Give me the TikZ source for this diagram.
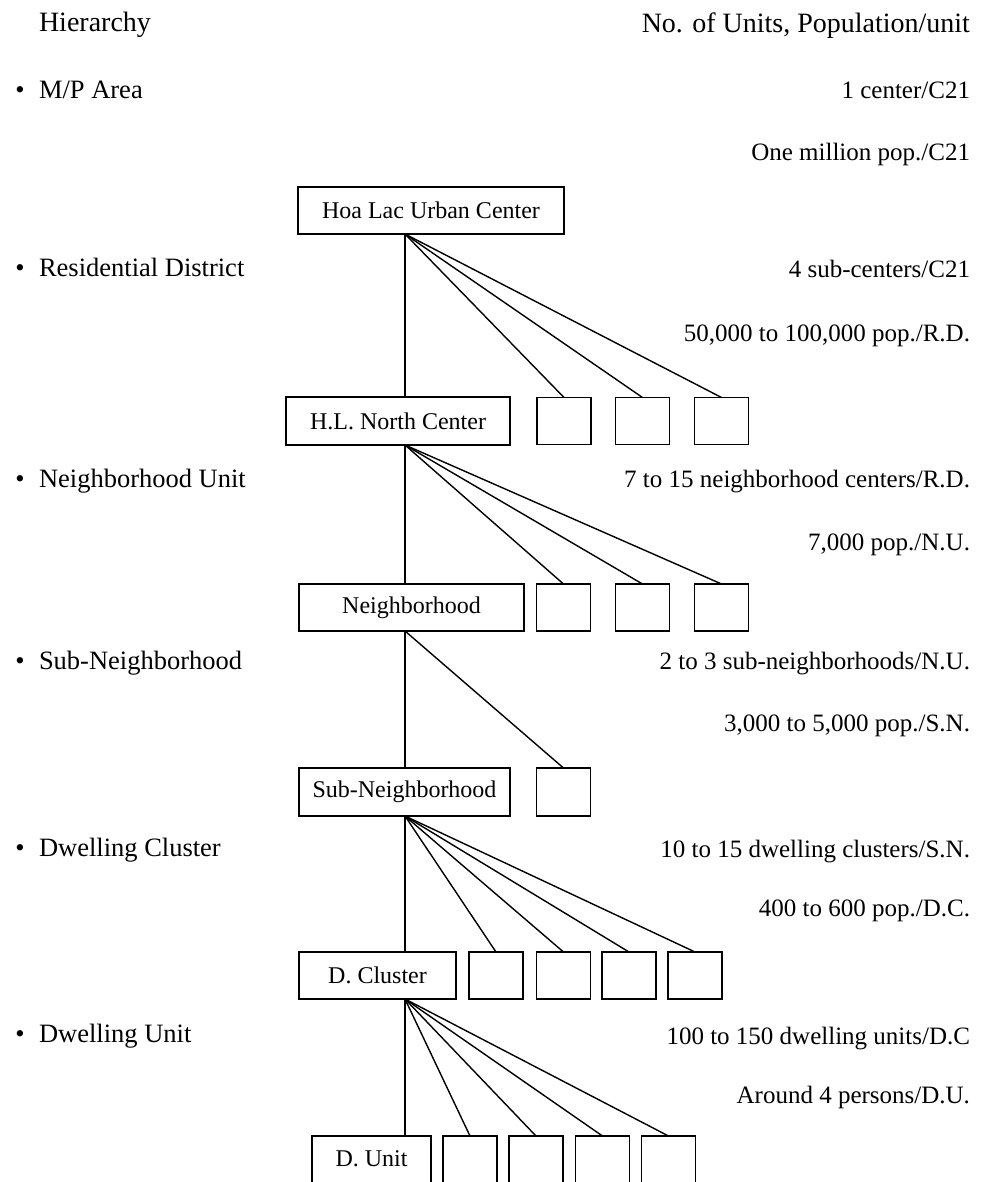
\documentclass[tikz,border=0pt]{standalone}
\usepackage{fontspec}
\setmainfont{Liberation Serif}
\begin{document}
\begin{tikzpicture}[x=1pt,y=-1pt,
  every node/.style={inner sep=0pt, outer sep=0pt},
  lbl/.style={font=\fontsize{25}{30}\selectfont},
  lvl/.style={font=\fontsize{26.5}{31}\selectfont},
  head/.style={font=\fontsize{28}{32}\selectfont},
  unitbox/.style={draw, line width=1.5pt, minimum height=47pt, font=\fontsize{24}{28}\selectfont},
  smallbox/.style={draw, line width=1.5pt, minimum height=47pt, minimum width=54pt},
  spineline/.style={line width=1.9pt},
  fanline/.style={line width=1.4pt}]
\useasboundingbox (0,0) rectangle (994,1182);
\clip (0,0) rectangle (994,1182);

% column headings
\node[head, anchor=base west] (hhier) at (39,32) {Hierarchy};
\node[head, anchor=base east] (hunits) at (970,33) {No. of Units, Population/unit};

% hierarchy levels (left)
\foreach \nm/\yy/\txt in {lmp/99/M\slash P Area, lrd/276/Residential District,
    lnu/487/Neighborhood Unit, lsn/669/Sub-Neighborhood,
    ldc/856/Dwelling Cluster, ldu/1042/Dwelling Unit}{
  \node[lvl, anchor=base] (\nm b) at (20,\yy) {•};
  \node[lvl, anchor=base west] (\nm) at (39,\yy) {\txt};
}

% units and population (right)
\foreach \nm/\yy/\txt in {r1a/99/1 center\slash C21, r1b/161/One million pop.\slash C21,
    r2a/277/4 sub-centers\slash C21, r2b/341/{50,000 to 100,000 pop.\slash R.D.},
    r3a/487/7 to 15 neighborhood centers\slash R.D., r3b/550/{7,000 pop.\slash N.U.},
    r4a/669/2 to 3 sub-neighborhoods\slash N.U., r4b/731/{3,000 to 5,000 pop.\slash S.N.},
    r5a/857/10 to 15 dwelling clusters\slash S.N., r5b/916/400 to 600 pop.\slash D.C.,
    r6a/1044/100 to 150 dwelling units\slash D.C, r6b/1103/Around 4 persons\slash D.U.}{
  \node[lbl, anchor=base east] (\nm) at (970,\yy) {\txt};
}

% spine of the tree
\coordinate (spine) at (405,0);

% level 1
\node[unitbox, minimum width=266pt] (hoalac) at (431,210.5) {Hoa Lac Urban Center};
% level 2
\node[unitbox, minimum width=224pt, minimum height=48pt] (hln) at (398,421) {H.L. North Center};
\node[smallbox] (rd1) at (564,421) {};
\node[smallbox] (rd2) at (642.5,421) {};
\node[smallbox] (rd3) at (721.5,421) {};
% level 3
\node[unitbox, minimum width=225pt] (nb) at (411.5,607.5) {Neighborhood};
\node[smallbox] (nu1) at (563.5,607.5) {};
\node[smallbox] (nu2) at (642.5,607.5) {};
\node[smallbox] (nu3) at (721.5,607.5) {};
% level 4
\node[unitbox, minimum width=211pt, minimum height=48pt] (sn) at (404.5,792) {Sub-Neighborhood};
\node[smallbox, minimum height=48pt] (sn1) at (563.5,792) {};
% level 5
\node[unitbox, minimum width=157pt] (dc) at (377.5,975.5) {D. Cluster};
\node[smallbox] (dc1) at (496,975.5) {};
\node[smallbox] (dc2) at (563.5,975.5) {};
\node[smallbox] (dc3) at (629,975.5) {};
\node[smallbox] (dc4) at (695,975.5) {};
% level 6 (runs past the lower edge)
\node[unitbox, minimum width=119pt, minimum height=60pt] (du) at (371.5,1166) {};
\node[font=\fontsize{24}{28}\selectfont, anchor=base] (dut) at (371.5,1166) {D. Unit};
\node[smallbox, minimum height=60pt] (du1) at (470,1166) {};
\node[smallbox, minimum height=60pt] (du2) at (536,1166) {};
\node[smallbox, minimum height=60pt] (du3) at (602.5,1166) {};
\node[smallbox, minimum height=60pt] (du4) at (668.5,1166) {};

% connectors
\draw[spineline] (hoalac.south -| spine) -- (hln.north -| spine);
\foreach \t in {rd1,rd2,rd3} \draw[fanline] (hoalac.south -| spine) -- (\t.north);
\draw[spineline] (hln.south -| spine) -- (nb.north -| spine);
\foreach \t in {nu1,nu2,nu3} \draw[fanline] (hln.south -| spine) -- (\t.north);
\draw[spineline] (nb.south -| spine) -- (sn.north -| spine);
\draw[fanline] (nb.south -| spine) -- (sn1.north);
\draw[spineline] (sn.south -| spine) -- (dc.north -| spine);
\foreach \t in {dc1,dc2,dc3,dc4} \draw[fanline] (sn.south -| spine) -- (\t.north);
\draw[spineline] (dc.south -| spine) -- (du.north -| spine);
\foreach \t in {du1,du2,du3,du4} \draw[fanline] (dc.south -| spine) -- (\t.north);
\end{tikzpicture}
\end{document}
